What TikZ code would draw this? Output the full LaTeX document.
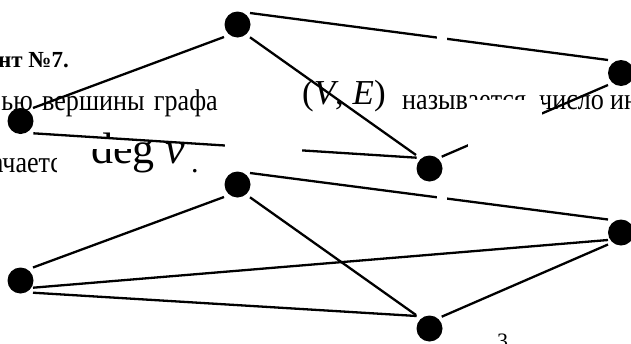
\documentclass[tikz,border=0pt]{standalone}
\usepackage{fontspec}
\setmainfont{Liberation Serif}
\newcommand{\narrowtext}[1]{\scalebox{0.87}[1]{#1}}
\begin{document}
\begin{tikzpicture}[x=1pt,y=-1pt,
  dot/.style={circle,fill=black,minimum size=26pt,inner sep=0pt,outer sep=0pt},
  edge/.style={line width=2.3pt},
  body/.style={inner sep=0pt,font=\fontsize{30}{30}\selectfont},
  cover/.style={fill=white,draw=none}]
\useasboundingbox (0,0) rectangle (631,343);
\clip (0,0) rectangle (631,343);
\fill[white] (0,0) rectangle (631,343);

% background text fragments
\node[inner sep=0pt,anchor=base east,font=\bfseries\fontsize{23}{23}\selectfont] (t1) at (69,67) {нт №7.};
\node[body,anchor=base east] (t2) at (33,110) {\narrowtext{ью}};
\node[body,anchor=base west] (t3) at (42,110) {\narrowtext{вершины}};
\node[body,anchor=base east] (t4) at (218,110) {\narrowtext{графа}};
\node[inner sep=0pt,anchor=base west,font=\fontsize{35}{35}\selectfont] (t5) at (302,104) {(\textit{V}, \textit{E})};
\node[body,anchor=base west] (t6) at (402,109) {\narrowtext{называется}};
\node[body,anchor=base west] (t7) at (539,109) {\narrowtext{число}};
\node[body,anchor=base west] (t8) at (610,109) {\narrowtext{инцидентных}};
\node[body,anchor=base west] (t9) at (-32.6,172) {\narrowtext{значается}};
\node[inner sep=0pt,anchor=base west,font=\fontsize{44}{44}\selectfont] (t10) at (91,163) {deg};
\node[inner sep=0pt,anchor=base west,font=\itshape\fontsize{44}{44}\selectfont] (t11) at (165,163) {v};
\node[body,anchor=base west] (t12) at (191,172) {.};
\node[inner sep=0pt,anchor=base west,font=\fontsize{22}{22}\selectfont] (t13) at (497,348) {3};

% covers below the lines
\fill[cover] (86,139) rectangle (132,149);
\fill[cover] (57,145) rectangle (88,182);

% vertices
\node[dot] (A) at (237.5,24.5) {};
\node[dot] (B) at (20.5,121) {};
\node[dot] (C) at (429.5,168.5) {};
\node[dot] (D) at (621,73) {};
\node[dot] (E) at (237.5,184.5) {};
\node[dot] (F) at (20.5,280.5) {};
\node[dot] (G) at (429.5,328.5) {};
\node[dot] (H) at (621,232.5) {};

% top graph edges
\draw[edge] ([shift={(12.5,-11.5)}]A.center) -- ([shift={(-13,-13)}]D.center);
\draw[edge] ([shift={(12.5,12.8)}]A.center) -- ([shift={(-13.5,-13.5)}]C.center);
\draw[edge] ([shift={(12.5,-13)}]B.center) -- ([shift={(-13.5,12.5)}]A.center);
\draw[edge] ([shift={(12.8,12.3)}]B.center) -- ([shift={(-12.8,-10.8)}]C.center);
\draw[edge] ([shift={(12.2,-11.8)}]C.center) -- ([shift={(-13,12)}]D.center);

% bottom graph edges
\draw[edge] ([shift={(12.5,-11.5)}]E.center) -- ([shift={(-13,-13)}]H.center);
\draw[edge] ([shift={(12.5,12.8)}]E.center) -- ([shift={(-13.5,-13.5)}]G.center);
\draw[edge] ([shift={(12.5,-13)}]F.center) -- ([shift={(-13.5,12.5)}]E.center);
\draw[edge] ([shift={(12.5,12.2)}]F.center) -- ([shift={(-12.8,-12.5)}]G.center);
\draw[edge] ([shift={(12.5,7.2)}]F.center) -- ([shift={(-13,7.5)}]H.center);
\draw[edge] ([shift={(12.2,-11.8)}]G.center) -- ([shift={(-13,12)}]H.center);

% covers over the lines
\fill[cover] (225,77) rectangle (302,152);
\fill[cover] (468,100) rectangle (542,148);
\fill[cover] (437,28) rectangle (447,46);
\fill[cover] (437,188) rectangle (447,206);
\end{tikzpicture}
\end{document}
